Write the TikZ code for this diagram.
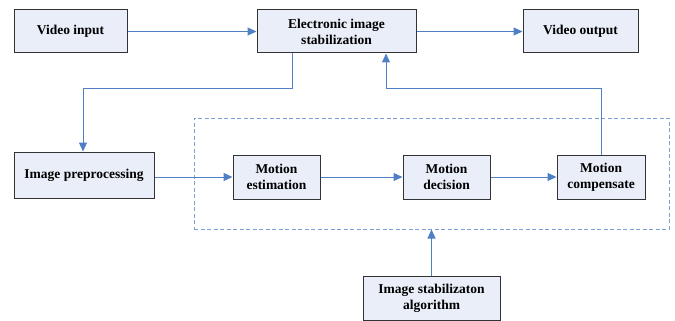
\documentclass[tikz,border=0pt]{standalone}
\usepackage{fontspec}
\setmainfont{Liberation Serif}
\usetikzlibrary{arrows.meta}
\definecolor{boxfill}{HTML}{E9EEF8}
\definecolor{boxline}{HTML}{333333}
\definecolor{arrowc}{HTML}{4F7FC4}
\definecolor{dashc}{HTML}{7EA0D6}
\begin{document}
\begin{tikzpicture}[x=1pt,y=-1pt,
  blk/.style={draw=boxline,fill=boxfill,line width=1pt,inner sep=0pt,align=center,
    font=\fontsize{13.5}{16}\selectfont\bfseries},
  arr/.style={draw=arrowc,line width=1pt,-{Triangle[length=9pt,width=8pt]}}]
\useasboundingbox (0,0) rectangle (675,321);
\node[blk,minimum width=113pt,minimum height=43pt] (vin) at (70.5,31.5) {Video input};
\node[blk,minimum width=159pt,minimum height=43pt] (eis) at (336.5,31.5) {Electronic image\\stabilization};
\node[blk,minimum width=115pt,minimum height=43pt] (vout) at (580.5,31.5) {Video output};
\node[blk,minimum width=140pt,minimum height=46pt] (pre) at (84,175) {Image preprocessing};
\node[blk,minimum width=87pt,minimum height=44pt] (est) at (276.5,177) {Motion\\estimation};
\node[blk,minimum width=87pt,minimum height=44pt] (dec) at (446.5,177) {Motion\\decision};
\node[blk,minimum width=88pt,minimum height=44pt] (comp) at (601,177) {Motion\\compensate};
\node[blk,minimum width=137pt,minimum height=44pt] (alg) at (431.5,298) {Image stabilizaton\\algorithm};
\node[draw=dashc,dashed,dash pattern=on 4pt off 2.5pt,line width=1pt,minimum width=475pt,minimum height=111pt,inner sep=0pt] (grp) at (431.5,173.5) {};
\draw[arr] (vin) -- (eis);
\draw[arr] (eis) -- (vout);
\draw[arr] (eis.south -| 292,0) |- (83,89) -- (pre.north -| 83,0);
\draw[arr] (pre.east |- est.west) -- (est.west);
\draw[arr] (est) -- (dec);
\draw[arr] (dec) -- (comp);
\draw[arr] (comp.north) |- (386,89) -- (eis.south -| 386,0);
\draw[arr] (alg.north) -- (grp.south -| alg.north);
\end{tikzpicture}
\end{document}
